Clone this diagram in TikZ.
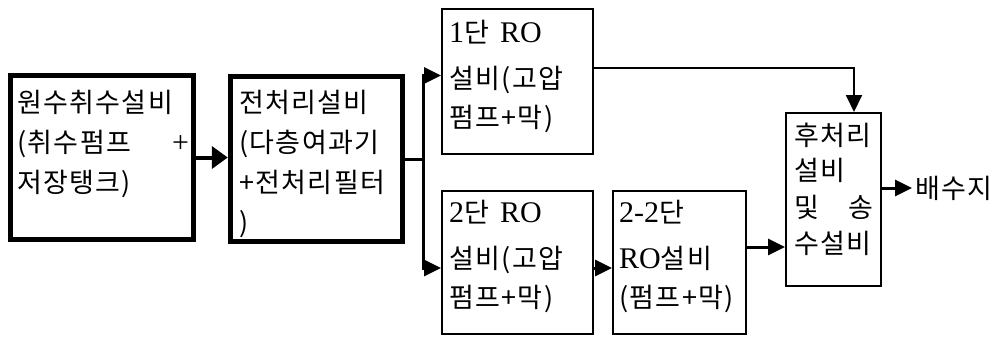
\documentclass[tikz,border=0pt]{standalone}
\usepackage{fontspec}
\setmainfont{Liberation Serif}[Scale=1.11]
\newfontfamily\kr{Noto Sans CJK KR}[LetterSpace=5]
\usetikzlibrary{arrows.meta}
\begin{document}
\begin{tikzpicture}[x=1pt,y=-1pt,
  heavybox/.style={draw, line width=5.5pt, rectangle, inner sep=0pt},
  lightbox/.style={draw, line width=2pt, rectangle, inner sep=0pt},
  txt/.style={anchor=base west, inner sep=0pt, font=\fontsize{27}{30}\selectfont},
  tip/.style={-{Triangle[length=17pt,width=16pt]}},
  conn/.style={line width=3pt},
  thinconn/.style={line width=2pt}]
\useasboundingbox (0,0) rectangle (1002,338);
% boxes
\node[heavybox, minimum width=183pt, minimum height=164pt] (b1) at (102,157.5) {};
\node[heavybox, minimum width=172pt, minimum height=165pt] (b2) at (316.5,159) {};
\node[lightbox, minimum width=151pt, minimum height=145pt] (ro1) at (517.5,81.5) {};
\node[lightbox, minimum width=151pt, minimum height=143pt] (ro2) at (517.5,262.5) {};
\node[lightbox, minimum width=133pt, minimum height=143pt] (ro22) at (679.5,262.5) {};
\node[lightbox, minimum width=95pt, minimum height=173pt] (post) at (833.5,199.5) {};
% texts
\node[txt] (t11) at (17,112) {\kr 원수취수설비};
\node[txt] (t12) at (17,152) {\makebox[155pt][l]{\kr (취수펌프}+};
\node[txt] (t13) at (17,192) {\kr 저장탱크)};
\node[txt] (t21) at (239,112) {\kr 전처리설비};
\node[txt] (t22) at (239,152) {\kr (다층여과기};
\node[txt] (t23) at (239,192) {\kr +전처리필터};
\node[txt] (t24) at (239,232) {\kr )};
\node[txt] (t31) at (449,42) {1{\kr 단}\hspace{11pt}RO};
\node[txt] (t32) at (449,88) {\kr 설비(고압};
\node[txt] (t33) at (449,127) {\kr 펌프+막)};
\node[txt] (t41) at (449,222) {2{\kr 단}\hspace{11pt}RO};
\node[txt] (t42) at (449,268) {\kr 설비(고압};
\node[txt] (t43) at (449,307) {\kr 펌프+막)};
\node[txt] (t51) at (619,222) {2-2{\kr 단}};
\node[txt] (t52) at (619,268) {RO{\kr 설비}};
\node[txt] (t53) at (619,307) {\kr (펌프+막)};
\node[txt] (t61) at (794,145) {\kr 후처리};
\node[txt] (t62) at (794,180) {\kr 설비};
\node[txt] (t63) at (794,217) {\makebox[54pt][l]{\kr 및}{\kr 송}};
\node[txt] (t64) at (794,253) {\kr 수설비};
\node[anchor=west, inner sep=3pt, font=\fontsize{27}{30}\selectfont] (drain) at (912,188) {\kr 배수지};
% connectors
\coordinate (split) at (423,159);
\draw[line width=4pt, -{Triangle[length=16pt,width=22pt]}] (b1.east) -- (b1.east -| b2.west);
\draw[conn] (b2.east) -- (split);
\draw[conn, tip] (split) |- ([yshift=6pt]ro1.west);
\draw[conn, tip] (split) |- ([yshift=-5.5pt]ro2.west);
\draw[thinconn, tip] ([yshift=13.5pt]ro1.east) -| ([xshift=20.5pt]post.north);
\draw[conn, tip] ([yshift=-5.5pt]ro2.east) -- ([yshift=-5.5pt]ro22.west);
\draw[conn, tip] ([yshift=15.5pt]ro22.east) -- ([yshift=15.5pt]ro22.east -| post.west);
\draw[conn, tip] ([yshift=11.5pt]post.east) -- (drain.west);
\end{tikzpicture}
\end{document}
